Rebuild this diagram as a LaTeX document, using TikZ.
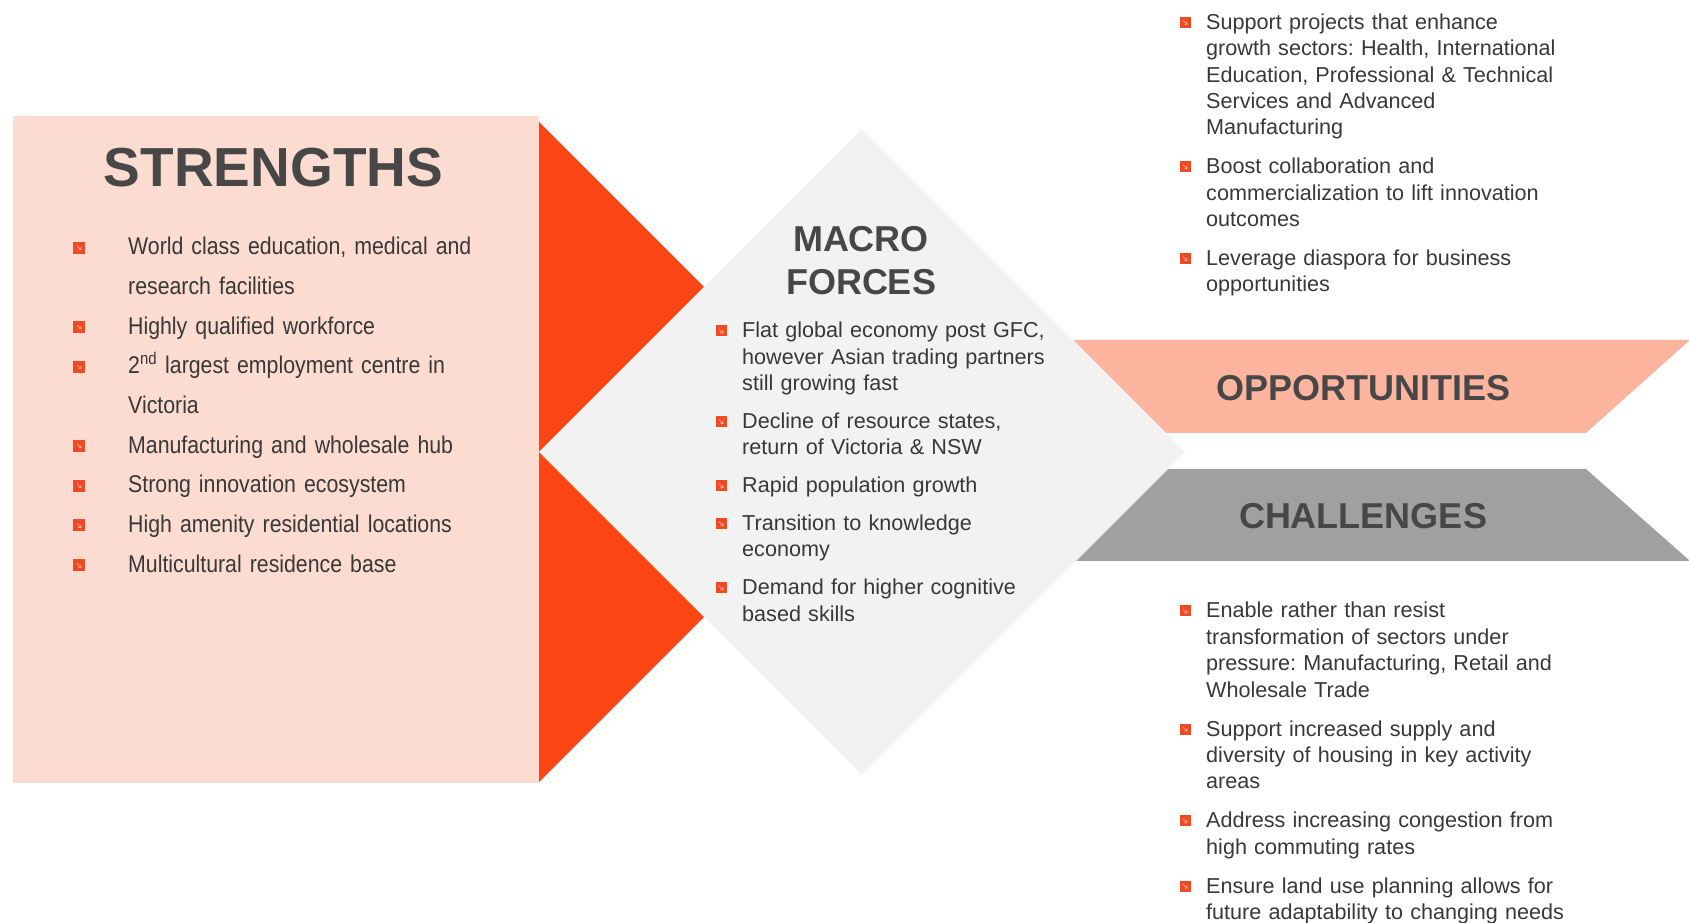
\documentclass[tikz,border=0pt]{standalone}
\usepackage{fontspec}
\setmainfont{Liberation Sans}
\newfontfamily\narrowsans[FakeStretch=0.88]{Liberation Sans}
\usetikzlibrary{positioning}

\definecolor{peach}{HTML}{FCDBD0}
\definecolor{flame}{HTML}{FC4614}
\definecolor{mist}{HTML}{F2F2F2}
\definecolor{salmon}{HTML}{FCB49E}
\definecolor{slate}{HTML}{A0A0A0}
\definecolor{headgray}{HTML}{474747}
\definecolor{txtgray}{HTML}{383838}
\definecolor{bulorange}{HTML}{EE4A26}
\definecolor{bulpale}{HTML}{F9B7A0}

\tikzset{
  heading/.style={text=headgray, inner sep=0pt, anchor=base},
  bodytxt/.style={text=txtgray, inner sep=0pt, text width=370pt, align=left,
    font=\fontsize{21.6}{26.4}\selectfont\frenchspacing,
    execute at begin node=\strut, execute at end node=\strut},
  strtxt/.style={bodytxt, text width=400pt, font=\narrowsans\fontsize{24.2}{39.4}\selectfont\frenchspacing},
  sqbul/.style={fill=bulorange, minimum size=11pt, inner sep=0pt,
    path picture={\draw[bulpale, line width=.6pt]
      (path picture bounding box.center) ++(-2pt,2pt) -- ++(4pt,-4pt) -- ++(-2.6pt,0pt)
      ++(2.6pt,0pt) -- ++(0pt,2.6pt);}}
}

\begin{document}
\begin{tikzpicture}[x=1pt,y=1pt]
  \useasboundingbox (0,0) rectangle (1689,923);

  % background shapes
  \fill[peach] (13,140) rectangle (539,807);
  \fill[flame] (539,801) -- (869,471) -- (539,141) -- cycle;
  \fill[salmon] (1000,583) -- (1690,583) -- (1586,490) -- (1000,490) -- cycle;
  \fill[slate] (1000,454) -- (1586,454) -- (1690,362) -- (1000,362) -- cycle;
  \fill[mist] (862,794) -- (1185,471) -- (862,148) -- (539,471) -- cycle;

  % headings
  \node[heading, font=\fontsize{55}{60}\selectfont\bfseries] (strengths) at (273.5,736) {STRENGTHS};
  \node[heading, font=\fontsize{36}{40}\selectfont\bfseries] (macro) at (861,671.5) {MACRO};
  \node[heading, font=\fontsize{36}{40}\selectfont\bfseries] (forces) at (861,628) {FORCES};
  \node[heading, font=\fontsize{36}{40}\selectfont\bfseries] (opps) at (1363,522) {OPPORTUNITIES};
  \node[heading, font=\fontsize{36}{40}\selectfont\bfseries] (chals) at (1363,394) {CHALLENGES};

  % strengths
  \node[strtxt, anchor=base west] (s1) at (128,668) {World class education, medical and\\research facilities};
  \node[strtxt, below=0pt of s1] (s2) {Highly qualified workforce};
  \node[strtxt, below=0pt of s2] (s3) {2\textsuperscript{nd} largest employment centre in\\Victoria};
  \node[strtxt, below=0pt of s3] (s4) {Manufacturing and wholesale hub};
  \node[strtxt, below=0pt of s4] (s5) {Strong innovation ecosystem};
  \node[strtxt, below=0pt of s5] (s6) {High amenity residential locations};
  \node[strtxt, below=0pt of s6] (s7) {Multicultural residence base};

  % macro forces
  \node[bodytxt, text width=320pt, anchor=base west] (m1) at (742,585)
    {Flat global economy post GFC,\\however Asian trading partners\\still growing fast};
  \node[bodytxt, text width=320pt, below=11pt of m1] (m2) {Decline of resource states,\\return of Victoria \& NSW};
  \node[bodytxt, text width=320pt, below=11pt of m2] (m3) {Rapid population growth};
  \node[bodytxt, text width=320pt, below=11pt of m3] (m4) {Transition to knowledge\\economy};
  \node[bodytxt, text width=320pt, below=11pt of m4] (m5) {Demand for higher cognitive\\based skills};

  % opportunities
  \node[bodytxt, anchor=base west] (o1) at (1206,893.7)
    {Support projects that enhance\\growth sectors: Health, International\\Education, Professional \& Technical\\Services and Advanced\\Manufacturing};
  \node[bodytxt, below=12.1pt of o1] (o2) {Boost collaboration and\\commercialization to lift innovation\\outcomes};
  \node[bodytxt, below=12.1pt of o2] (o3) {Leverage diaspora for business\\opportunities};

  % challenges
  \node[bodytxt, anchor=base west] (c1) at (1206,305)
    {Enable rather than resist\\transformation of sectors under\\pressure: Manufacturing, Retail and\\Wholesale Trade};
  \node[bodytxt, below=12.1pt of c1] (c2) {Support increased supply and\\diversity of housing in key activity\\areas};
  \node[bodytxt, below=12.1pt of c2] (c3) {Address increasing congestion from\\high commuting rates};
  \node[bodytxt, below=12.1pt of c3] (c4) {Ensure land use planning allows for\\future adaptability to changing needs};

  % bullets
  \foreach \n in {s1,s2,s3,s4,s5,s6,s7}
    \node[sqbul, minimum size=12pt] (b\n) at ([xshift=-49pt,yshift=7.3pt]\n.base west) {};
  \foreach \n in {m1,m2,m3,m4,m5,o1,o2,o3,c1,c2,c3,c4}
    \node[sqbul] (b\n) at ([xshift=-21pt,yshift=7pt]\n.base west) {};
\end{tikzpicture}
\end{document}
